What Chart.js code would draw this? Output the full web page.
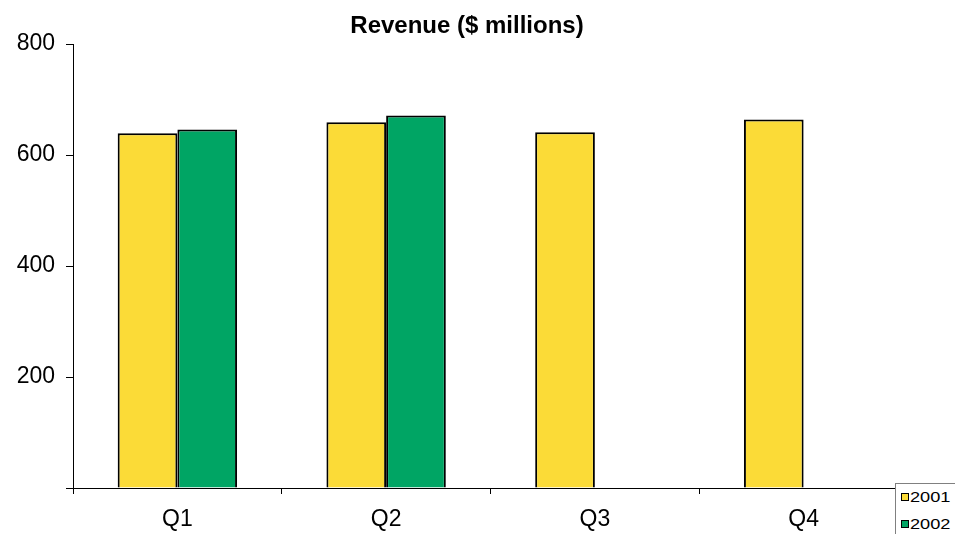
<!DOCTYPE html>
<html>
<head>
<meta charset="utf-8">
<title>Revenue ($ millions)</title>
<script src="https://cdn.jsdelivr.net/npm/chart.js@4.4.1/dist/chart.umd.min.js"></script>
<style>
  html, body { margin: 0; padding: 0; background: #fff; }
  #wrap { position: relative; width: 955px; height: 534px; overflow: hidden; }
  #revenue-chart { position: absolute; left: 0; top: 0; }
  #chart-title {
    position: absolute; top: 11px; left: 0; width: 934px;
    text-align: center; font: bold 24px "Liberation Sans", Arial, sans-serif;
    line-height: 28px; color: #000;
  }
  #chart-legend {
    position: absolute; left: 895px; top: 483px; width: 60px; height: 51px;
    background: #fff; border-left: 1px solid #808080; border-top: 1px solid #808080;
    box-sizing: border-box;
  }
  .legend-item { position: absolute; left: 5px; height: 14px; }
  .legend-swatch {
    position: absolute; left: 0; top: 3px; width: 6px; height: 6px;
    border: 1px solid #000;
  }
  .legend-text {
    position: absolute; left: 9px; top: 0; white-space: nowrap;
    font: 14px "Liberation Sans", Arial, sans-serif; line-height: 14px; color: #000;
    transform: scaleX(1.3); transform-origin: left center;
  }
</style>
</head>
<body>
<div id="wrap">
  <canvas id="revenue-chart" width="955" height="534"></canvas>
  <div id="chart-title">Revenue ($ millions)</div>
  <div id="chart-legend"></div>
</div>
<script>
// Quarterly revenue, $ millions
const quarters = ['Q1', 'Q2', 'Q3', 'Q4'];
const seriesNames = ['2001', '2002'];
const revenue2001 = [639, 659, 641, 664];
const revenue2002 = [646, 671, null, null];
const yMax = 800;
const yStep = 200;

const seriesColors = ['#FBDB37', '#00A564'];
const fontFamily = '"Liberation Sans", Arial, sans-serif';

const ctx = document.getElementById('revenue-chart');

const chart = new Chart(ctx, {
    type: 'bar',
    data: {
        labels: quarters,
        datasets: [
            { label: seriesNames[0], data: revenue2001, backgroundColor: seriesColors[0] },
            { label: seriesNames[1], data: revenue2002, backgroundColor: seriesColors[1] }
        ]
    },
    options: {
        responsive: false,
        animation: false,
        layout: { padding: { top: 44, right: 47, left: 0, bottom: 0 } },
        datasets: {
            bar: {
                borderColor: '#000',
                borderWidth: 2,
                barPercentage: 1,
                categoryPercentage: 0.572
            }
        },
        plugins: {
            legend: { display: false },
            title: { display: false },
            tooltip: { enabled: false }
        },
        scales: {
            x: {
                offset: true,
                grid: {
                    offset: true,
                    drawOnChartArea: false,
                    drawTicks: true,
                    tickLength: 6,
                    tickColor: '#000'
                },
                border: { display: true, color: '#000', width: 1 },
                ticks: {
                    color: '#000',
                    padding: 12,
                    font: { family: fontFamily, size: 23 }
                },
                afterFit: (scale) => { scale.height = 46; }
            },
            y: {
                min: 0,
                max: yMax,
                grid: {
                    drawOnChartArea: false,
                    drawTicks: true,
                    tickLength: 7,
                    tickColor: '#000'
                },
                border: { display: true, color: '#000', width: 1 },
                ticks: {
                    stepSize: yStep,
                    color: '#000',
                    padding: 11,
                    font: { family: fontFamily, size: 23 },
                    // zero gets a tick mark but no label
                    callback: (value) => value === 0 ? '' : value
                },
                afterFit: (scale) => { scale.width = 73; }
            }
        }
    }
});

// Legend box in the lower right corner
const legendBox = document.getElementById('chart-legend');
const legendTops = [6, 33];
legendBox.innerHTML = chart.data.datasets.map((ds, i) => `
    <div class="legend-item" style="top:${legendTops[i]}px">
        <span class="legend-swatch" style="background:${ds.backgroundColor}"></span>
        <span class="legend-text">${ds.label}</span>
    </div>
`).join('');
</script>
</body>
</html>
